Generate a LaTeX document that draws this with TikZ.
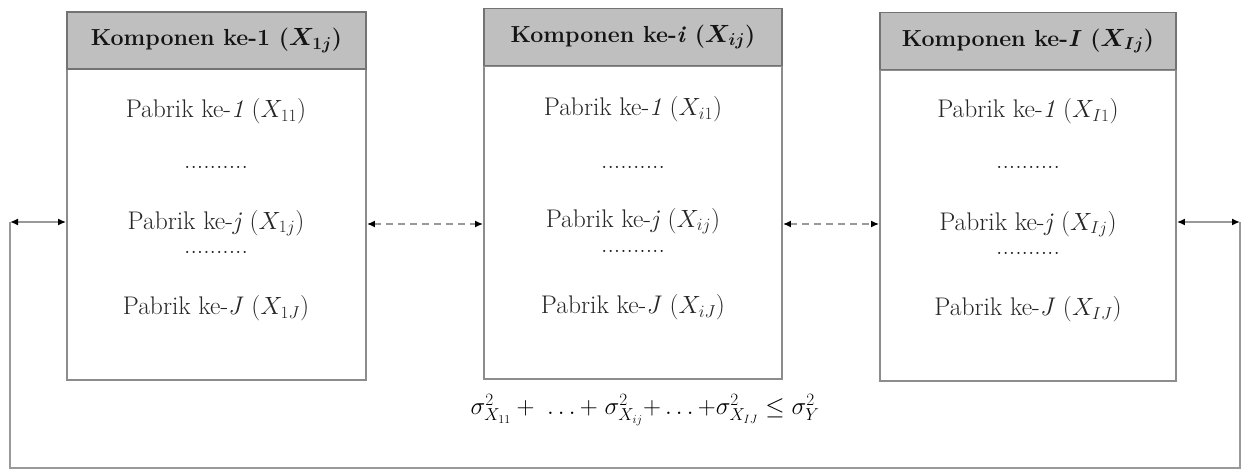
\documentclass[tikz,border=0pt]{standalone}
\usepackage{bm}
\usetikzlibrary{arrows.meta}
\newcommand\hdrfont{\fontsize{23.2}{27}\selectfont\bfseries}
\newcommand\pfont{\fontsize{25.5}{29}\selectfont}
\newcommand\ffont{\fontsize{24}{28}\selectfont}
\begin{document}
\begin{tikzpicture}[x=1pt,y=-1pt,
  hdr/.style={draw=black!55,line width=1.8pt,fill=black!25,inner sep=0pt,minimum height=57pt,font=\hdrfont,text=black!92},
  bodybox/.style={draw=black!45,line width=1.8pt,fill=white,inner sep=0pt},
  ptext/.style={font=\pfont,text=black!85},
  dotrow/.style={font=\pfont,text=black!90},
  conn/.style={draw=black!40,line width=1.6pt},
  tip/.style={{Latex[length=8pt,width=7pt,black]}-{Latex[length=8pt,width=7pt,black]}}
]
\useasboundingbox (0,0) rectangle (1242,470);
% Box 1
\node[bodybox,minimum width=299pt,minimum height=311pt] (b1) at (216.5,224.5) {};
\node[hdr,minimum width=299pt] (h1) at (216.5,40.5) {Komponen ke-1 ($\bm{X}_{\bm{1j}}$)};
\node[ptext] (p11) at (216,111) {Pabrik ke-\textit{1} ($X_{11}$)};
\node[dotrow] (d11) at (216,167) {..........};
\node[ptext] (p1j) at (216,223) {Pabrik ke-\textit{j} ($X_{1j}$)};
\node[dotrow] (d12) at (216,252) {..........};
\node[ptext] (p1J) at (216,308) {Pabrik ke-\textit{J} ($X_{1J}$)};
% Box 2
\node[bodybox,minimum width=298pt,minimum height=313pt] (b2) at (633,222.5) {};
\node[hdr,minimum width=298pt] (h2) at (633,37) {Komponen ke-\textit{i} ($\bm{X}_{\bm{ij}}$)};
\node[ptext] (p21) at (633,109) {Pabrik ke-\textit{1} ($X_{i1}$)};
\node[dotrow] (d21) at (633,167) {..........};
\node[ptext] (p2j) at (633,221) {Pabrik ke-\textit{j} ($X_{ij}$)};
\node[dotrow] (d22) at (633,251) {..........};
\node[ptext] (p2J) at (633,307) {Pabrik ke-\textit{J} ($X_{iJ}$)};
% Box 3
\node[bodybox,minimum width=296pt,minimum height=311pt] (b3) at (1028,225.5) {};
\node[hdr,minimum width=296pt] (h3) at (1028,41) {Komponen ke-\textit{I} ($\bm{X}_{\bm{Ij}}$)};
\node[ptext] (p31) at (1028,111) {Pabrik ke-\textit{1} ($X_{I1}$)};
\node[dotrow] (d31) at (1028,167) {..........};
\node[ptext] (p3j) at (1028,224) {Pabrik ke-\textit{j} ($X_{Ij}$)};
\node[dotrow] (d32) at (1028,253) {..........};
\node[ptext] (p3J) at (1028,309) {Pabrik ke-\textit{J} ($X_{IJ}$)};
% formula
\node[font=\ffont] (f) at (645,410)
  {$\sigma^2_{X_{11}} + \;\dots{+}\; \sigma^2_{X_{ij}}{+}\ldots{+}\sigma^2_{X_{IJ}} \le \sigma^2_{Y}$};
% connectors
\coordinate (cl) at (10,222);
\coordinate (cbl) at (10,468);
\coordinate (cbr) at (1240,468);
\coordinate (cr) at (1240,222);
\coordinate (m12) at (425,224);
\coordinate (m23) at (831,224);
\draw[conn,tip] (cl) -- (b1.west |- cl);
\draw[conn] (cl) -- (cbl) -- (cbr) -- (cr);
\draw[conn,tip] (b3.east |- cr) -- (cr);
\draw[conn,dash pattern=on 7pt off 5pt,tip] (b1.east |- m12) -- (b2.west |- m12);
\draw[conn,dash pattern=on 7pt off 5pt,tip] (b2.east |- m23) -- (b3.west |- m23);
\end{tikzpicture}
\end{document}
